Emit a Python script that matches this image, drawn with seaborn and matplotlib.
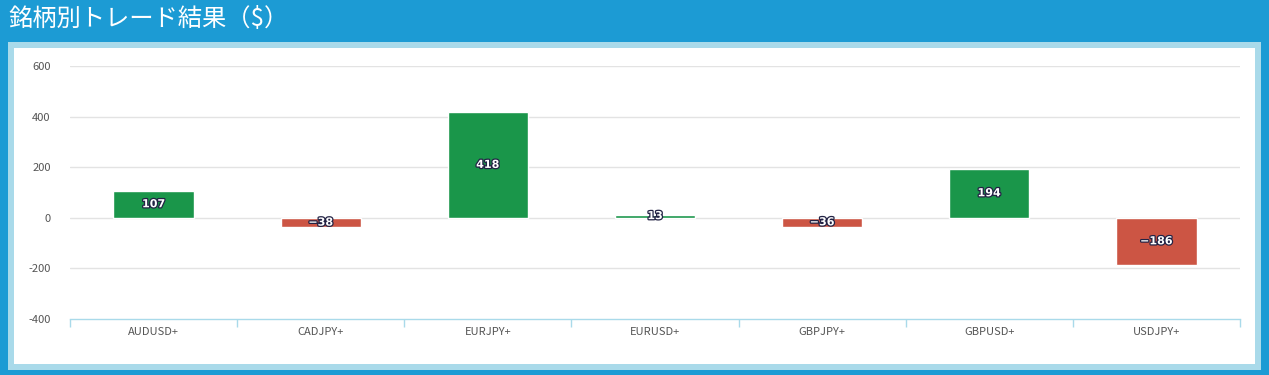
import matplotlib
matplotlib.use("Agg")
import matplotlib.pyplot as plt
import matplotlib.patheffects as pe
from matplotlib.patches import Rectangle
import seaborn as sns
import numpy as np

categories = ["AUDUSD+", "CADJPY+", "EURJPY+", "EURUSD+", "GBPJPY+", "GBPUSD+", "USDJPY+"]
values = [107, -38, 418, 13, -36, 194, -186]
yticks = [-400, -200, 0, 200, 400, 600]
title = "銘柄別トレード結果（$）"

sns.set_theme(style="white")
plt.rcParams['font.family'] = ['Noto Sans CJK JP', 'DejaVu Sans']

W, H = 1269, 375
fig = plt.figure(figsize=(W/100, H/100), dpi=100)
fig.patch.set_facecolor("#1C9BD4")

# light blue border panel + white inner panel
fig.add_artist(Rectangle((8/W, 1-370/H), (1261-8)/W, (370-42)/H, transform=fig.transFigure,
                         facecolor="#A9DAEA", edgecolor="none", zorder=0))
fig.add_artist(Rectangle((14/W, 1-364/H), (1255-14)/W, (364-48)/H, transform=fig.transFigure,
                         facecolor="white", edgecolor="none", zorder=0))
fig.text(8/W, 1-19/H, title, color="white", fontsize=17.5, va="center", ha="left")

ax = fig.add_axes([70/W, 1-319/H, (1240-70)/W, (319-66)/H])
ax.set_facecolor("none")
colors = ["#1A964A" if v >= 0 else "#CC5544" for v in values]
sns.barplot(x=categories, y=values, hue=categories, palette=colors, legend=False,
            width=0.48, ax=ax, saturation=1, zorder=3)

ax.set_ylim(-400, 600)
ax.set_xlim(-0.5, len(categories) - 0.5)
ax.set_yticks(yticks)
ax.set_yticklabels([str(t) for t in yticks], fontsize=8, color="#555555")
for t in yticks[1:]:
    ax.axhline(t, color="#E3E3E3", lw=1, zorder=1)

for s in ["top", "right", "left"]:
    ax.spines[s].set_visible(False)
ax.spines["bottom"].set_color("#A9DAEA")
ax.spines["bottom"].set_linestyle((0, (1, 1)))
ax.spines["bottom"].set_linewidth(1)

ax.tick_params(axis="y", length=0, pad=14)
ax.set_xticks(range(len(categories)))
ax.set_xticklabels(categories, fontsize=8, color="#555555")
ax.tick_params(axis="x", which="major", length=0, pad=6, bottom=True)
ax.set_xticks(np.arange(-0.5, len(categories), 1), minor=True)
ax.tick_params(axis="x", which="minor", length=6, color="#A9DAEA", width=1, bottom=True)
ax.set_xlabel("")
ax.set_ylabel("")

for i, v in enumerate(values):
    ax.text(i, v / 2, str(v).replace("-", "−"), ha="center", va="center", fontsize=8,
            color="white", fontweight="bold", zorder=5, family="DejaVu Sans",
            path_effects=[pe.withStroke(linewidth=1.8, foreground="#222244")])

fig.savefig("out.png", dpi=100, facecolor=fig.get_facecolor())
